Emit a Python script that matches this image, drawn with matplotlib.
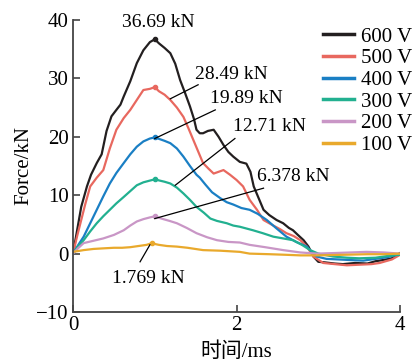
import matplotlib
matplotlib.use('Agg')
import matplotlib.pyplot as plt

plt.rcParams['font.family'] = ['Liberation Serif', 'Noto Sans CJK SC']
plt.rcParams['font.size'] = 15

# time (ms) / force (kN) per voltage
t600 = [0, 0.05, 0.1, 0.17, 0.22, 0.29, 0.35, 0.41, 0.47, 0.53, 0.58, 0.62, 0.7, 0.78, 0.86, 0.94, 1.0, 1.05, 1.12, 1.19,
        1.25, 1.31, 1.37, 1.43, 1.48, 1.51, 1.55, 1.59, 1.65, 1.72, 1.78, 1.84, 1.90, 1.96, 2.04, 2.12, 2.17, 2.21, 2.27,
        2.33, 2.40, 2.49, 2.57, 2.64, 2.69, 2.75, 2.82, 2.88, 2.94, 3.0, 3.08, 3.2, 3.3, 3.45, 3.6, 3.7, 3.79, 3.9, 3.95, 4.0]
f600 = [0, 4, 8, 11.5, 13.5, 15.5, 17, 21, 23.5, 24.6, 25.5, 26.9, 29.5, 32.6, 34.8, 36.2, 36.69, 36.0, 35.2, 34.3,
        32.5, 29.7, 27.5, 25.2, 23, 21.2, 20.6, 20.6, 21.0, 21.2, 20.0, 18.6, 17.4, 16.6, 15.7, 15.4, 14, 11.5, 9.5,
        7.5, 6.6, 5.75, 5.2, 4.4, 4.0, 3.2, 2.3, 1.2, -0.5, -1.4, -1.5, -1.7, -1.8, -1.6, -1.7, -1.3, -1.1, -0.8, -0.3, 0.1]
t500 = [0, 0.05, 0.09, 0.15, 0.21, 0.29, 0.37, 0.45, 0.53, 0.62, 0.70, 0.78, 0.86, 0.94, 1.0, 1.05, 1.12, 1.19, 1.27,
        1.35, 1.41, 1.47, 1.53, 1.59, 1.66, 1.72, 1.78, 1.84, 1.92, 2.0, 2.08, 2.16, 2.25, 2.33, 2.45, 2.53, 2.61, 2.70,
        2.78, 2.86, 2.94, 3.06, 3.2, 3.35, 3.5, 3.65, 3.75, 3.9, 4.0]
f500 = [0, 3, 5.2, 8.5, 11.5, 13, 14.3, 18, 21.2, 23.2, 24.6, 26.3, 28.0, 28.2, 28.49, 27.8, 27.2, 26.3, 25,
        23.4, 21.5, 19.5, 17.5, 15.5, 14.5, 13.7, 14.0, 14.3, 13.5, 12.6, 11.5, 9.2, 7.5, 5.75, 4.8, 4.2, 3.5, 3.0,
        2.3, 1.2, -0.5, -1.6, -1.8, -2.0, -1.9, -1.8, -1.6, -1.0, -0.2]
t400 = [0, 0.06, 0.13, 0.21, 0.29, 0.37, 0.45, 0.53, 0.62, 0.70, 0.78, 0.86, 0.94, 1.0, 1.06, 1.12, 1.19, 1.27, 1.35,
        1.43, 1.51, 1.55, 1.62, 1.70, 1.80, 1.88, 1.96, 2.06, 2.16, 2.26, 2.37, 2.49, 2.61, 2.73, 2.86, 2.92, 2.98, 3.1,
        3.25, 3.39, 3.55, 3.7, 3.85, 4.0]
f400 = [0, 1.4, 2.9, 5.2, 7.5, 9.8, 12.0, 13.8, 15.5, 17, 18.3, 19.2, 19.7, 19.89, 19.6, 19.3, 18.9, 18.0, 16.6,
        15, 13.5, 13.0, 11.8, 10.5, 9.5, 8.8, 8.4, 7.8, 7.5, 6.8, 5.75, 4.3, 2.9, 2.0, 1.2, 0.3, -0.5, -0.9,
        -1.0, -1.1, -1.2, -0.9, -0.6, 0]
t300 = [0, 0.06, 0.13, 0.21, 0.29, 0.37, 0.45, 0.53, 0.62, 0.70, 0.78, 0.86, 0.94, 1.0, 1.06, 1.12, 1.19, 1.27, 1.35,
        1.43, 1.51, 1.60, 1.68, 1.76, 1.88, 1.96, 2.04, 2.2, 2.32, 2.45, 2.57, 2.69, 2.8, 2.9, 3.0, 3.18, 3.35, 3.5,
        3.7, 3.85, 4.0]
f300 = [0, 1.2, 2.3, 3.8, 5.2, 6.4, 7.5, 8.6, 9.7, 10.7, 11.7, 12.2, 12.5, 12.71, 12.5, 12.3, 12.0, 11.3, 10.3,
        9.2, 8.0, 7.0, 6.0, 5.6, 5.2, 4.8, 4.6, 4.0, 3.5, 2.9, 2.6, 2.3, 1.5, 0.6, 0.0, -0.5, -0.7, -0.8,
        -0.7, -0.4, -0.2]
t200 = [0, 0.06, 0.13, 0.25, 0.37, 0.5, 0.62, 0.70, 0.78, 0.86, 0.94, 1.0, 1.08, 1.18, 1.27, 1.39, 1.51, 1.64, 1.76,
        1.90, 2.04, 2.16, 2.35, 2.57, 2.78, 2.98, 3.2, 3.4, 3.59, 3.8, 4.0]
f200 = [0, 0.9, 1.8, 2.2, 2.6, 3.2, 4.0, 4.8, 5.5, 5.9, 6.2, 6.378, 6.0, 5.6, 5.2, 4.4, 3.5, 2.8, 2.3,
        2.0, 1.9, 1.5, 1.1, 0.6, 0.2, 0, 0.1, 0.2, 0.3, 0.2, 0]
t100 = [0, 0.13, 0.25, 0.37, 0.5, 0.6, 0.70, 0.8, 0.9, 0.96, 1.05, 1.15, 1.27, 1.4, 1.59, 1.8, 2.04, 2.16, 2.4, 2.6,
        2.78, 3.0, 3.3, 3.6, 3.8, 4.0]
f100 = [0.3, 0.6, 0.8, 0.9, 1.0, 1.0, 1.1, 1.3, 1.5, 1.769, 1.5, 1.3, 1.2, 1.0, 0.6, 0.5, 0.3, 0.0, -0.1, -0.2,
        -0.3, -0.3, -0.2, -0.1, -0.1, 0]

series = [('600 V', t600, f600, '#231f20'),
          ('500 V', t500, f500, '#e8685f'),
          ('400 V', t400, f400, '#1a7fc4'),
          ('300 V', t300, f300, '#22b090'),
          ('200 V', t200, f200, '#c996c6'),
          ('100 V', t100, f100, '#e9a92c')]

# peak labels: text, leader line start/end, text position
peak_labels = ['36.69 kN', '28.49 kN', '19.89 kN', '12.71 kN', '6.378 kN', '1.769 kN']
line_from = [None, (1.19, 26.5), (1.0, 19.7), (1.25, 11.7), (1.0, 6.0), (0.94, 1.5)]
line_to = [None, (1.53, 28.9), (1.74, 24.6), (1.98, 19.7), (2.33, 11.2), (0.82, -1.4)]
text_at = [(1.04, 39.5), (1.94, 30.6), (2.12, 26.6), (2.4, 21.7), (2.7, 13.2), (0.92, -4.2)]

fig = plt.figure(figsize=(4.15, 3.62), dpi=100)
ax = fig.add_axes([0.176, 0.138, 0.788, 0.807])

for name, t, f, c in series:
    ax.plot(t, f, '-', color=c, lw=1.6, label=name)
    k = f.index(max(f)) if name != '100 V' else f.index(1.769)
    ax.plot(t[k], f[k], 'o', color=c, ms=3)

for lab, a, b, p in zip(peak_labels, line_from, line_to, text_at):
    if a is not None:
        ax.plot([a[0], b[0]], [a[1], b[1]], 'k-', lw=0.9)
    ax.text(p[0], p[1], lab, ha='center', va='center', fontsize=14)

ax.set_xlim(0, 4)
ax.set_ylim(-10, 40)
ax.set_xticks([0, 2, 4])
ax.set_yticks([-10, 0, 10, 20, 30, 40])
ax.tick_params(direction='in', length=5, width=1.2, color='#444444', pad=3)
for s in ['top', 'right']:
    ax.spines[s].set_visible(False)
for s in ['left', 'bottom']:
    ax.spines[s].set_color('#444444')
    ax.spines[s].set_linewidth(1.3)
ax.set_xlabel('时间/ms', labelpad=5)
ax.set_ylabel('Force/kN', labelpad=2)

leg = ax.legend(loc='upper left', bbox_to_anchor=(0.778, 0.925), bbox_transform=fig.transFigure,
                frameon=False, handlelength=1.5, handletextpad=0.35, labelspacing=0.1,
                borderpad=0, borderaxespad=0, fontsize=15)
for h in leg.get_lines():
    h.set_linewidth(2.5)

fig.savefig('out.png', dpi=100)
